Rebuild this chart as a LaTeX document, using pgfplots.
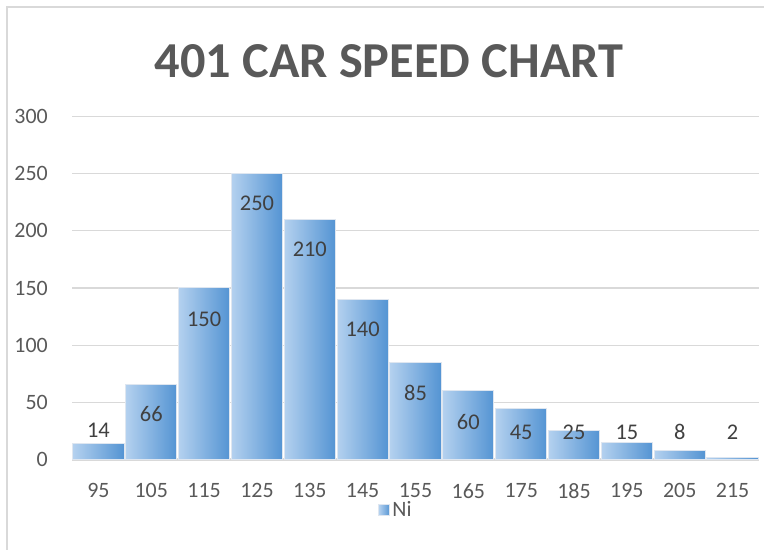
\documentclass[border=0pt]{standalone}
\usepackage{fontspec}
\setmainfont{Carlito}
\usepackage{pgfplots}
\pgfplotsset{compat=1.18}
\definecolor{txt}{HTML}{595959}
\definecolor{lbl}{HTML}{404040}
\definecolor{gridc}{HTML}{D9D9D9}
\definecolor{barL}{HTML}{B4D1EF}
\definecolor{barR}{HTML}{5494D3}
\begin{document}
\begin{tikzpicture}
\useasboundingbox (0,0) rectangle (764bp,550bp);
\draw[gridc, line width=1.5bp] (7bp,0bp) -- (7bp,543bp) -- (764bp,543bp);
\node[anchor=base, inner sep=0pt, text=txt, font=\fontsize{50.5}{58}\selectfont\bfseries] at (389bp,472bp) {401 CAR SPEED CHART};
\begin{axis}[
  at={(72bp,90.5bp)}, anchor=south west,
  scale only axis, width=687bp, height=343bp,
  xmin=-0.5, xmax=12.5, ymin=0, ymax=300,
  ytick={0,50,...,300},
  xtick={0,...,12},
  xticklabels={95,105,115,125,135,145,155,165,175,185,195,205,215},
  axis line style={draw=none},
  major tick length=0pt,
  ymajorgrids, grid style={gridc, line width=1.3bp},
  extra y ticks={0}, extra y tick labels={},
  extra y tick style={grid style={gridc, line width=3bp}},
  /pgf/number format/assume math mode=true,
  tick label style={text=txt, font=\fontsize{22}{26}\selectfont, inner sep=0pt},
  yticklabel style={anchor=east},
  yticklabel shift=24bp,
  xticklabel style={anchor=north},
  xticklabel shift=24bp,
  legend style={at={(0.4716,-0.147)}, anchor=center, draw=none, fill=none,
    font=\fontsize{22}{26}\selectfont, text=txt, inner sep=0pt, column sep=0pt},
  legend cell align=left,
  legend image code/.code={\fill[left color=barL, right color=barR] (0bp,-5.5bp) rectangle (11bp,5.5bp);},
  bars/.style={ybar, bar shift=0pt, bar width=0.97, left color=barL, right color=barR,
    draw={rgb,255:red,222;green,230;blue,240}, line width=1bp},
]
\addplot[bars] coordinates {(0,14)};
\addlegendentry{Ni}
\addplot[bars, forget plot] coordinates {(1,66)};
\addplot[bars, forget plot] coordinates {(2,150)};
\addplot[bars, forget plot] coordinates {(3,250)};
\addplot[bars, forget plot] coordinates {(4,210)};
\addplot[bars, forget plot] coordinates {(5,140)};
\addplot[bars, forget plot] coordinates {(6,85)};
\addplot[bars, forget plot] coordinates {(7,60)};
\addplot[bars, forget plot] coordinates {(8,45)};
\addplot[bars, forget plot] coordinates {(9,25)};
\addplot[bars, forget plot] coordinates {(10,15)};
\addplot[bars, forget plot] coordinates {(11,8)};
\addplot[bars, forget plot] coordinates {(12,2)};
\addplot[draw=none, mark=none, forget plot, nodes near coords, point meta=explicit symbolic,
  every node near coord/.append style={anchor=center, text=lbl, font=\fontsize{22.5}{26}\selectfont}]
  coordinates {(0,25.5)[14] (1,39.5)[66] (2,122.5)[150] (3,224)[250] (4,183.5)[210] (5,113.5)[140] (6,58)[85] (7,33)[60] (8,24)[45] (9,24)[25] (10,24)[15] (11,24)[8] (12,24)[2]};
\end{axis}
\end{tikzpicture}
\end{document}
